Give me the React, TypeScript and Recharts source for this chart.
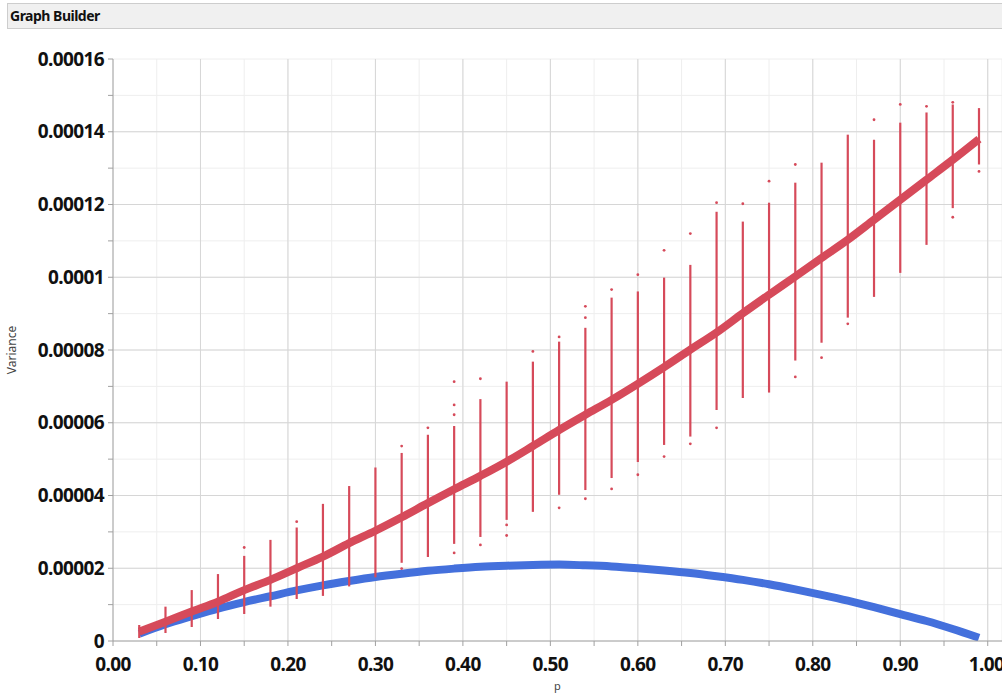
import { ComposedChart, Line, Scatter, ErrorBar, XAxis, YAxis, CartesianGrid, Label } from 'recharts'

// p values where the simulations were run
const pValues = [
  0.03, 0.06, 0.09, 0.12, 0.15, 0.18, 0.21, 0.24, 0.27, 0.3, 0.33, 0.36, 0.39, 0.42, 0.45, 0.48, 0.51,
  0.54, 0.57, 0.6, 0.63, 0.66, 0.69, 0.72, 0.75, 0.78, 0.81, 0.84, 0.87, 0.9, 0.93, 0.96, 0.99,
]

// red curve (mean of simulated variance)
const redVariance = [
  2.6e-6, 5.3e-6, 8.1e-6, 10.8e-6, 14.0e-6, 16.8e-6, 20.0e-6, 23.2e-6, 26.9e-6, 30.3e-6, 34.0e-6,
  37.9e-6, 41.7e-6, 45.4e-6, 49.3e-6, 53.6e-6, 58.0e-6, 62.2e-6, 66.3e-6, 70.7e-6, 75.3e-6, 80.1e-6,
  84.8e-6, 90.1e-6, 95.2e-6, 100.2e-6, 105.3e-6, 110.3e-6, 115.8e-6, 121.3e-6, 126.8e-6, 132.3e-6,
  138.0e-6,
]

// blue curve
const blueVariance = [
  2.0e-6, 4.6e-6, 6.8e-6, 8.9e-6, 10.7e-6, 12.3e-6, 13.9e-6, 15.3e-6, 16.5e-6, 17.6e-6, 18.5e-6,
  19.3e-6, 19.9e-6, 20.4e-6, 20.7e-6, 20.9e-6, 21.0e-6, 20.8e-6, 20.5e-6, 20.0e-6, 19.4e-6, 18.7e-6,
  17.8e-6, 16.8e-6, 15.6e-6, 14.2e-6, 12.7e-6, 11.1e-6, 9.3e-6, 7.4e-6, 5.5e-6, 3.3e-6, 0.9e-6,
]

// spread of the simulated values at each p
const spreadLow = [
  0.83e-6, 2.2e-6, 3.85e-6, 6.05e-6, 7.43e-6, 9.44e-6, 11.55e-6, 12.4e-6, 15.0e-6, 17.5e-6, 21.5e-6,
  23.1e-6, 26.7e-6, 28.6e-6, 33.3e-6, 35.5e-6, 40.2e-6, 41.5e-6, 44.8e-6, 49.2e-6, 53.9e-6, 56.2e-6,
  63.5e-6, 66.8e-6, 68.3e-6, 77.1e-6, 82.0e-6, 88.9e-6, 94.6e-6, 101.2e-6, 108.9e-6, 119.0e-6, 131.0e-6,
]
const spreadHigh = [
  4.4e-6, 9.44e-6, 14.0e-6, 18.4e-6, 23.4e-6, 27.8e-6, 31.2e-6, 37.7e-6, 42.6e-6, 47.7e-6, 51.7e-6,
  56.7e-6, 59.1e-6, 66.5e-6, 71.3e-6, 76.8e-6, 82.3e-6, 86.1e-6, 94.4e-6, 96.1e-6, 99.9e-6, 103.4e-6,
  118.0e-6, 115.3e-6, 120.5e-6, 126.0e-6, 131.5e-6, 139.2e-6, 137.8e-6, 142.5e-6, 145.3e-6, 147.5e-6,
  146.5e-6,
]

// stray points outside the dense spread
const strayP = [
  0.15, 0.21, 0.33, 0.33, 0.36, 0.39, 0.39, 0.39, 0.39, 0.42, 0.42, 0.45, 0.45, 0.48, 0.51, 0.51, 0.54,
  0.54, 0.54, 0.57, 0.57, 0.6, 0.6, 0.63, 0.63, 0.66, 0.66, 0.69, 0.69, 0.72, 0.75, 0.78, 0.78, 0.81,
  0.84, 0.87, 0.9, 0.93, 0.96, 0.96, 0.99,
]
const strayVariance = [
  25.7e-6, 32.8e-6, 53.6e-6, 19.9e-6, 58.6e-6, 71.3e-6, 64.9e-6, 62.2e-6, 24.2e-6, 72.1e-6, 26.4e-6,
  31.9e-6, 29.0e-6, 79.6e-6, 83.6e-6, 36.6e-6, 92.0e-6, 88.9e-6, 39.1e-6, 96.6e-6, 41.8e-6, 100.7e-6,
  45.7e-6, 107.4e-6, 50.7e-6, 112.0e-6, 54.2e-6, 120.5e-6, 58.6e-6, 120.2e-6, 126.4e-6, 131.0e-6,
  72.6e-6, 77.9e-6, 87.2e-6, 143.3e-6, 147.5e-6, 147.0e-6, 148.1e-6, 116.5e-6, 129.1e-6,
]

const xTicks = [
  0, 0.05, 0.1, 0.15, 0.2, 0.25, 0.3, 0.35, 0.4, 0.45, 0.5, 0.55, 0.6, 0.65, 0.7, 0.75, 0.8, 0.85, 0.9,
  0.95, 1,
]
const xTickLabels = [
  '0.00', '', '0.10', '', '0.20', '', '0.30', '', '0.40', '', '0.50', '', '0.60', '', '0.70', '',
  '0.80', '', '0.90', '', '1.00',
]
const xMajor = [0.1, 0.2, 0.3, 0.4, 0.5, 0.6, 0.7, 0.8, 0.9, 1]

const yTicks = [
  0, 0.00001, 0.00002, 0.00003, 0.00004, 0.00005, 0.00006, 0.00007, 0.00008, 0.00009, 0.0001,
  0.00011, 0.00012, 0.00013, 0.00014, 0.00015, 0.00016,
]
const yTickLabels = [
  '0', '', '0.00002', '', '0.00004', '', '0.00006', '', '0.00008', '', '0.0001', '', '0.00012', '',
  '0.00014', '', '0.00016',
]
const yMajor = [0.00002, 0.00004, 0.00006, 0.00008, 0.0001, 0.00012, 0.00014]

const RED = '#d64a5a'
const BLUE = '#4470dc'
const X_MAX = 1.0163
const Y_MAX = 0.00016
const tickFont = { fill: '#111', fontSize: 19, fontWeight: 700, fontFamily: 'Noto Sans', letterSpacing: -0.6 }

const curveData = pValues.map((p, i) => ({ p, red: redVariance[i], blue: blueVariance[i] }))
const spreadData = pValues.map((p, i) => ({ p, v: spreadLow[i], err: [0, spreadHigh[i] - spreadLow[i]] }))
const strayData = strayP.map((p, i) => ({ p, v: strayVariance[i] }))

// major grid lines sit on the 0.1 / 0.00002 ticks, placed inside the plot box
const majorVertical = ({ offset }: any) => xMajor.map((v) => offset.left + (v / X_MAX) * offset.width)
const majorHorizontal = ({ offset }: any) => yMajor.map((v) => offset.top + (1 - v / Y_MAX) * offset.height)

export default function App() {
  return (
    <div style={{ position: 'absolute', left: 0, top: 0, width: 1002, height: 694, background: '#fff', overflow: 'hidden' }}>
      <div
        style={{
          position: 'absolute',
          left: 7,
          top: 3,
          width: 1010,
          height: 24,
          background: '#f0f0f0',
          border: '1px solid #cdcdcd',
          fontFamily: 'Noto Sans',
          fontWeight: 700,
          fontSize: 14,
          letterSpacing: -0.5,
          lineHeight: '24px',
          paddingLeft: 2,
          color: '#111',
        }}
      >
        Graph Builder
      </div>
      <div style={{ position: 'absolute', left: 0, top: 0 }}>
        <ComposedChart width={1002} height={694} data={curveData} margin={{ top: 59, right: 0, bottom: 18, left: 0 }}>
          <CartesianGrid stroke="#eeeeee" />
          <CartesianGrid
            stroke="#d6d6d6"
            verticalCoordinatesGenerator={majorVertical}
            horizontalCoordinatesGenerator={majorHorizontal}
          />
          <XAxis
            dataKey="p"
            type="number"
            domain={[0, X_MAX]}
            ticks={xTicks}
            tickFormatter={(_v: number, i: number) => xTickLabels[i]}
            tick={tickFont}
            tickSize={5}
            tickMargin={12}
            height={35}
            allowDataOverflow
            axisLine={{ stroke: '#a0a0a0' }}
            tickLine={{ stroke: '#a0a0a0' }}
          >
            <Label value="p" position="bottom" offset={6} style={{ fontSize: 11, fill: '#444', fontFamily: 'Noto Sans' }} />
          </XAxis>
          <XAxis xAxisId="frame" orientation="top" type="number" domain={[0, 1]} height={0} tick={false} tickLine={false} axisLine={{ stroke: '#b0b0b0' }} />
          <YAxis
            type="number"
            domain={[0, Y_MAX]}
            ticks={yTicks}
            tickFormatter={(_v: number, i: number) => yTickLabels[i]}
            tick={tickFont}
            tickSize={5}
            tickMargin={4}
            width={113}
            allowDataOverflow
            axisLine={{ stroke: '#a0a0a0' }}
            tickLine={{ stroke: '#a0a0a0' }}
          >
            <Label
              value="Variance"
              angle={-90}
              position="insideLeft"
              offset={12}
              style={{ fontSize: 12, fill: '#444', fontFamily: 'Noto Sans', textAnchor: 'middle' }}
            />
          </YAxis>
          <Line dataKey="blue" type="monotone" stroke={BLUE} strokeWidth={8} dot={false} isAnimationActive={false} />
          <Scatter data={spreadData} dataKey="v" shape={() => <g />} isAnimationActive={false}>
            <ErrorBar dataKey="err" direction="y" width={0} stroke={RED} strokeWidth={2.2} />
          </Scatter>
          <Scatter
            data={strayData}
            dataKey="v"
            isAnimationActive={false}
            shape={(props: any) => <circle cx={props.cx} cy={props.cy} r={1.4} fill={RED} />}
          />
          <Line dataKey="red" type="monotone" stroke={RED} strokeWidth={8} dot={false} isAnimationActive={false} />
        </ComposedChart>
      </div>
    </div>
  )
}
